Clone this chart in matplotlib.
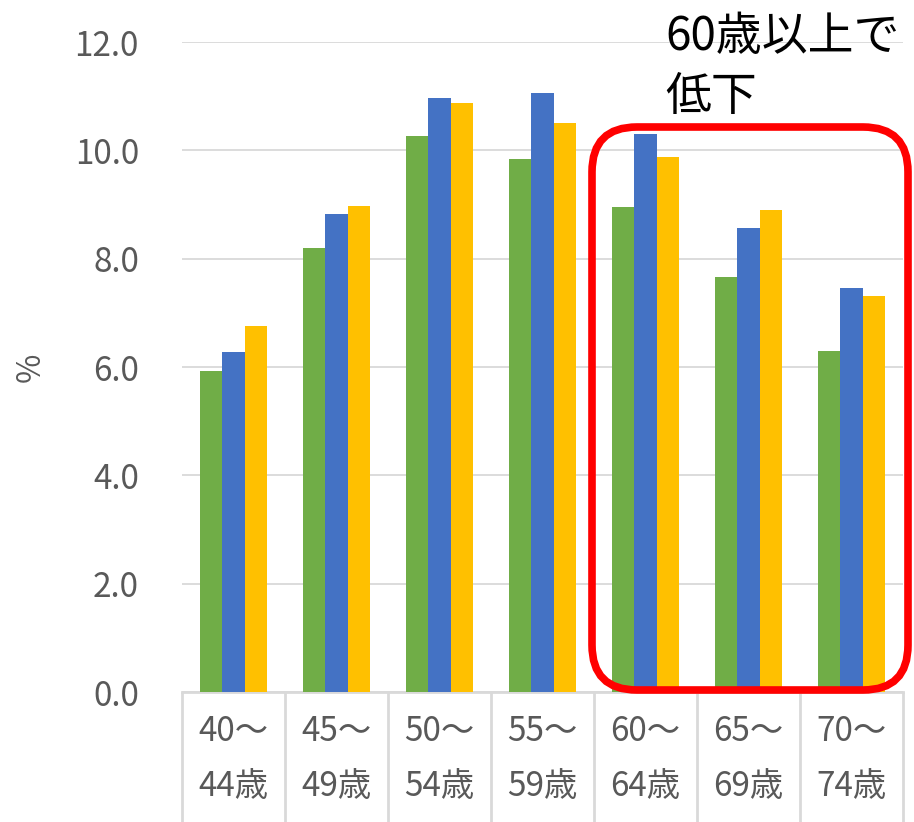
import matplotlib
matplotlib.use("Agg")
import matplotlib.pyplot as plt
import numpy as np
from matplotlib.patches import FancyBboxPatch

plt.rcParams['font.family'] = ['Noto Sans CJK JP', 'DejaVu Sans']

# データ
age_top = ["40～", "45～", "50～", "55～", "60～", "65～", "70～"]
age_bottom = ["44歳", "49歳", "54歳", "59歳", "64歳", "69歳", "74歳"]
series_green = [5.93, 8.20, 10.26, 9.84, 8.95, 7.66, 6.30]
series_blue = [6.28, 8.82, 10.97, 11.06, 10.30, 8.57, 7.46]
series_yellow = [6.76, 8.97, 10.87, 10.50, 9.88, 8.90, 7.31]
y_ticks = [0, 2, 4, 6, 8, 10, 12]

W, H, DPI = 914, 822, 100
fig = plt.figure(figsize=(W / DPI, H / DPI), dpi=DPI)
ax = fig.add_axes([182 / W, (H - 692) / H, (903 - 182) / W, (692 - 42) / H])

x = np.arange(len(age_top))
bw = 0.22
grey = '#595959'
ax.bar(x - bw, series_green, bw, color='#70AD47', zorder=3)
ax.bar(x, series_blue, bw, color='#4472C4', zorder=3)
ax.bar(x + bw, series_yellow, bw, color='#FFC000', zorder=3)

ax.set_xlim(-0.5, len(age_top) - 0.5)
ax.set_ylim(0, 12)
ax.set_yticks(y_ticks)
ax.set_yticklabels([f"{v:.1f}" for v in y_ticks])
ax.tick_params(axis='y', length=0, pad=31, labelsize=24, labelcolor=grey)
ax.grid(axis='y', color='#d9d9d9', linewidth=1.3, zorder=0)
ax.set_ylabel('%', fontsize=23, color=grey, labelpad=20)

for s in ['top', 'right', 'left']:
    ax.spines[s].set_visible(False)
ax.spines['bottom'].set_color('#d9d9d9')
ax.spines['bottom'].set_linewidth(2)

# カテゴリ区切り線
ax.set_xticks(np.arange(len(age_top) + 1) - 0.5, minor=True)
ax.tick_params(axis='x', which='minor', length=96, width=2, color='#d9d9d9', direction='out')
ax.set_xticks(x)
ax.set_xticklabels([f"{a}\n{b}" for a, b in zip(age_top, age_bottom)], linespacing=1.75)
ax.tick_params(axis='x', which='major', length=0, pad=16, labelsize=24, labelcolor=grey)

# 赤枠と注記
box = FancyBboxPatch((592 / DPI, (H - 690) / DPI), (908 - 592) / DPI, (690 - 127) / DPI,
                     boxstyle="round,pad=0,rounding_size=0.45",
                     transform=fig.dpi_scale_trans, facecolor='none',
                     edgecolor='#FF0000', linewidth=5.5, clip_on=False, zorder=5)
fig.add_artist(box)
fig.text(665 / W, (H - 50) / H, "60歳以上で", fontsize=33, color='black', va='baseline')
fig.text(665 / W, (H - 110) / H, "低下", fontsize=33, color='black', va='baseline')

fig.savefig('out.png', dpi=DPI)
